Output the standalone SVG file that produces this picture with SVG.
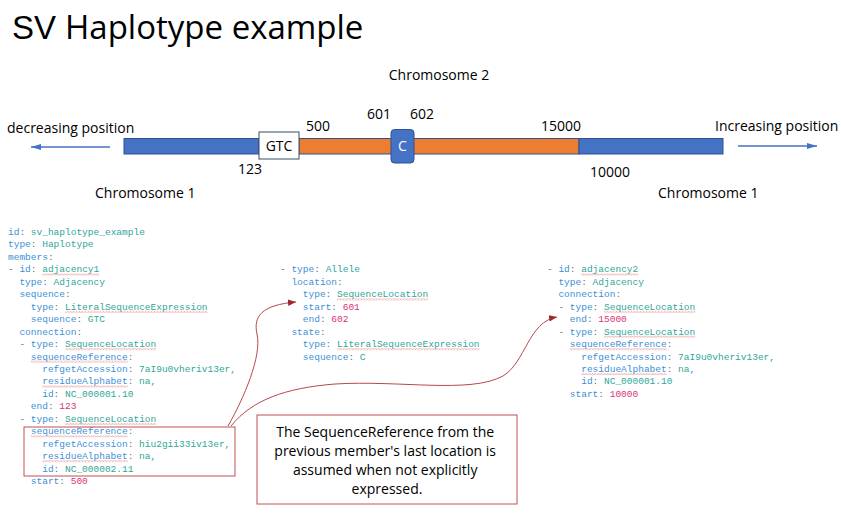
<svg xmlns="http://www.w3.org/2000/svg" width="841" height="520" viewBox="0 0 841 520">
  <defs>
    <style>
      .lbl { font-family: "Open Sans", "Liberation Sans", sans-serif; font-size: 14px; fill: #000; }
      .code { font-family: "Liberation Mono", "DejaVu Sans Mono", monospace; font-size: 9.5px; }
      .k { fill: #3d8fd6; }
      .p { fill: #6b7480; }
      .v { fill: #2fa699; }
      .n { fill: #d6337a; }
      .sq { fill: url(#squiggle); }
      .link { fill: none; stroke: #b9484a; stroke-width: 1; }
      .bar { stroke: #2f528f; stroke-width: 1; }
    </style>
    <pattern id="squiggle" x="0" y="0" width="3" height="2" patternUnits="userSpaceOnUse">
      <path d="M0,1.5 L0.75,0.5 L1.5,1.5 L2.25,0.5 L3,1.5" fill="none" stroke="#e57373" stroke-width="0.6"/>
    </pattern>
    <marker id="blueHead" viewBox="0 0 10 6" refX="10" refY="3" markerWidth="10" markerHeight="6" markerUnits="userSpaceOnUse" orient="auto">
      <path d="M0,0 L10,3 L0,6 Z" fill="#4472c4"/>
    </marker>
    <marker id="redHead" viewBox="0 0 10 8" refX="10" refY="4" markerWidth="8" markerHeight="6.4" markerUnits="userSpaceOnUse" orient="auto">
      <path d="M0,0 L10,4 L0,8 Z" fill="#9e2a2b"/>
    </marker>
  </defs>

  <rect width="841" height="520" fill="#ffffff"/>

  <!-- title -->
  <g id="title">
    <text x="12" y="38.5" font-family="Liberation Sans, Arial, sans-serif" font-size="33" fill="#000">SV</text>
    <text x="65" y="38.5" font-family="Open Sans, Liberation Sans, sans-serif" font-size="33" fill="#000">Haplotype example</text>
  </g>

  <!-- chromosome track -->
  <g id="track">
    <rect class="bar" x="124" y="138.5" width="135" height="15.5" fill="#4472c4"/>
    <rect class="bar" x="299" y="138.5" width="280" height="15.5" fill="#ed7d31" stroke="#ae5a21"/>
    <rect class="bar" x="579" y="138.5" width="144" height="15.5" fill="#4472c4"/>
  </g>
  <g id="gtc">
    <rect x="259" y="132" width="40" height="27" fill="#ffffff" stroke="#3b4f66" stroke-width="1"/>
    <text class="lbl" x="279" y="151" text-anchor="middle" font-size="13.5">GTC</text>
  </g>
  <g id="allele-c">
    <rect x="391" y="129.5" width="23" height="33.5" rx="3.5" fill="#4472c4" stroke="#2f528f" stroke-width="1"/>
    <text class="lbl" x="402.5" y="151" text-anchor="middle" font-size="13.5" style="fill:#ffffff">C</text>
  </g>

  <!-- track labels -->
  <g id="labels">
    <text class="lbl" x="439" y="80" text-anchor="middle" font-size="15.5">Chromosome 2</text>
    <text class="lbl" x="7" y="133" font-size="13.4">decreasing position</text>
    <text class="lbl" x="715" y="131" font-size="13.6">Increasing position</text>
    <text class="lbl" x="306" y="131" font-size="13.5">500</text>
    <text class="lbl" x="367" y="119" font-size="13.5">601</text>
    <text class="lbl" x="410" y="119" font-size="13.5">602</text>
    <text class="lbl" x="541" y="131" font-size="13.5">15000</text>
    <text class="lbl" x="238" y="174" font-size="13.5">123</text>
    <text class="lbl" x="590" y="177" font-size="13.5">10000</text>
    <text class="lbl" x="95" y="198" font-size="15.3">Chromosome 1</text>
    <text class="lbl" x="658" y="198" font-size="15.3">Chromosome 1</text>
  </g>

  <!-- direction arrows -->
  <g id="direction-arrows">
    <line x1="110" y1="147" x2="31" y2="147" stroke="#4472c4" stroke-width="1.3" marker-end="url(#blueHead)"/>
    <line x1="738" y1="146" x2="817" y2="146" stroke="#4472c4" stroke-width="1.3" marker-end="url(#blueHead)"/>
  </g>

  <!-- spell-check style underlines -->
  <g id="underlines">
    <rect class="sq" x="42.2" y="273.5" width="57" height="2"/>
    <rect class="sq" x="65" y="310.8" width="142.5" height="2"/>
    <rect class="sq" x="65" y="348.2" width="91.2" height="2"/>
    <rect class="sq" x="30.8" y="360.6" width="96.9" height="2"/>
    <rect class="sq" x="42.2" y="385.5" width="85.5" height="2"/>
    <rect class="sq" x="65" y="422.9" width="91.2" height="2"/>
    <rect class="sq" x="30.8" y="435.3" width="96.9" height="2"/>
    <rect class="sq" x="42.2" y="460.2" width="85.5" height="2"/>

    <rect class="sq" x="337" y="298.4" width="91.2" height="2"/>
    <rect class="sq" x="337" y="348.2" width="142.5" height="2"/>

    <rect class="sq" x="581.2" y="273.5" width="57" height="2"/>
    <rect class="sq" x="604" y="310.8" width="91.2" height="2"/>
    <rect class="sq" x="604" y="335.7" width="91.2" height="2"/>
    <rect class="sq" x="569.8" y="348.2" width="96.9" height="2"/>
    <rect class="sq" x="581.2" y="373.1" width="85.5" height="2"/>

    <rect class="sq" x="304" y="441" width="132" height="2"/>
  </g>

  <!-- haplotype document, first column -->
  <g id="doc-left" class="code">
    <text x="8" y="235"><tspan class="k">id</tspan><tspan class="p">: </tspan><tspan class="v">sv_haplotype_example</tspan></text>
    <text x="8" y="247.45"><tspan class="k">type</tspan><tspan class="p">: </tspan><tspan class="v">Haplotype</tspan></text>
    <text x="8" y="259.9"><tspan class="k">members</tspan><tspan class="p">:</tspan></text>
    <text x="8" y="272.35"><tspan class="p">- </tspan><tspan class="k">id</tspan><tspan class="p">: </tspan><tspan class="v">adjacency1</tspan></text>
    <text x="19.4" y="284.8"><tspan class="k">type</tspan><tspan class="p">: </tspan><tspan class="v">Adjacency</tspan></text>
    <text x="19.4" y="297.25"><tspan class="k">sequence</tspan><tspan class="p">:</tspan></text>
    <text x="30.8" y="309.7"><tspan class="k">type</tspan><tspan class="p">: </tspan><tspan class="v">LiteralSequenceExpression</tspan></text>
    <text x="30.8" y="322.15"><tspan class="k">sequence</tspan><tspan class="p">: </tspan><tspan class="v">GTC</tspan></text>
    <text x="19.4" y="334.6"><tspan class="k">connection</tspan><tspan class="p">:</tspan></text>
    <text x="19.4" y="347.05"><tspan class="p">- </tspan><tspan class="k">type</tspan><tspan class="p">: </tspan><tspan class="v">SequenceLocation</tspan></text>
    <text x="30.8" y="359.5"><tspan class="k">sequenceReference</tspan><tspan class="p">:</tspan></text>
    <text x="42.2" y="371.95"><tspan class="k">refgetAccession</tspan><tspan class="p">: </tspan><tspan class="v">7aI9u0vheriv13er,</tspan></text>
    <text x="42.2" y="384.4"><tspan class="k">residueAlphabet</tspan><tspan class="p">: </tspan><tspan class="v">na,</tspan></text>
    <text x="42.2" y="396.85"><tspan class="k">id</tspan><tspan class="p">: </tspan><tspan class="v">NC_000001.10</tspan></text>
    <text x="30.8" y="409.3"><tspan class="k">end</tspan><tspan class="p">: </tspan><tspan class="n">123</tspan></text>
    <text x="19.4" y="421.75"><tspan class="p">- </tspan><tspan class="k">type</tspan><tspan class="p">: </tspan><tspan class="v">SequenceLocation</tspan></text>
    <text x="30.8" y="434.2"><tspan class="k">sequenceReference</tspan><tspan class="p">:</tspan></text>
    <text x="42.2" y="446.65"><tspan class="k">refgetAccession</tspan><tspan class="p">: </tspan><tspan class="v">hiu2gii33iv13er,</tspan></text>
    <text x="42.2" y="459.1"><tspan class="k">residueAlphabet</tspan><tspan class="p">: </tspan><tspan class="v">na,</tspan></text>
    <text x="42.2" y="471.55"><tspan class="k">id</tspan><tspan class="p">: </tspan><tspan class="v">NC_000002.11</tspan></text>
    <text x="30.8" y="484"><tspan class="k">start</tspan><tspan class="p">: </tspan><tspan class="n">500</tspan></text>
  </g>

  <!-- second column: allele member -->
  <g id="doc-middle" class="code">
    <text x="280" y="272.35"><tspan class="p">- </tspan><tspan class="k">type</tspan><tspan class="p">: </tspan><tspan class="v">Allele</tspan></text>
    <text x="291.4" y="284.8"><tspan class="k">location</tspan><tspan class="p">:</tspan></text>
    <text x="302.8" y="297.25"><tspan class="k">type</tspan><tspan class="p">: </tspan><tspan class="v">SequenceLocation</tspan></text>
    <text x="302.8" y="309.7"><tspan class="k">start</tspan><tspan class="p">: </tspan><tspan class="n">601</tspan></text>
    <text x="302.8" y="322.15"><tspan class="k">end</tspan><tspan class="p">: </tspan><tspan class="n">602</tspan></text>
    <text x="291.4" y="334.6"><tspan class="k">state</tspan><tspan class="p">:</tspan></text>
    <text x="302.8" y="347.05"><tspan class="k">type</tspan><tspan class="p">: </tspan><tspan class="v">LiteralSequenceExpression</tspan></text>
    <text x="302.8" y="359.5"><tspan class="k">sequence</tspan><tspan class="p">: </tspan><tspan class="v">C</tspan></text>
  </g>

  <!-- third column: second adjacency -->
  <g id="doc-right" class="code">
    <text x="547" y="272.35"><tspan class="p">- </tspan><tspan class="k">id</tspan><tspan class="p">: </tspan><tspan class="v">adjacency2</tspan></text>
    <text x="558.4" y="284.8"><tspan class="k">type</tspan><tspan class="p">: </tspan><tspan class="v">Adjacency</tspan></text>
    <text x="558.4" y="297.25"><tspan class="k">connection</tspan><tspan class="p">:</tspan></text>
    <text x="558.4" y="309.7"><tspan class="p">- </tspan><tspan class="k">type</tspan><tspan class="p">: </tspan><tspan class="v">SequenceLocation</tspan></text>
    <text x="569.8" y="322.15"><tspan class="k">end</tspan><tspan class="p">: </tspan><tspan class="n">15000</tspan></text>
    <text x="558.4" y="334.6"><tspan class="p">- </tspan><tspan class="k">type</tspan><tspan class="p">: </tspan><tspan class="v">SequenceLocation</tspan></text>
    <text x="569.8" y="347.05"><tspan class="k">sequenceReference</tspan><tspan class="p">:</tspan></text>
    <text x="581.2" y="359.5"><tspan class="k">refgetAccession</tspan><tspan class="p">: </tspan><tspan class="v">7aI9u0vheriv13er,</tspan></text>
    <text x="581.2" y="371.95"><tspan class="k">residueAlphabet</tspan><tspan class="p">: </tspan><tspan class="v">na,</tspan></text>
    <text x="581.2" y="384.4"><tspan class="k">id</tspan><tspan class="p">: </tspan><tspan class="v">NC_000001.10</tspan></text>
    <text x="569.8" y="396.85"><tspan class="k">start</tspan><tspan class="p">: </tspan><tspan class="n">10000</tspan></text>
  </g>

  <!-- highlighted reference block -->
  <g id="ref-highlight">
    <rect x="24" y="427" width="211" height="49" fill="none" stroke="#c0504d" stroke-width="1"/>
  </g>

  <!-- note -->
  <g id="note">
    <rect x="257" y="415" width="260" height="89" fill="#ffffff" stroke="#c0504d" stroke-width="1"/>
    <text class="lbl" text-anchor="middle" font-size="14.7">
      <tspan x="387" y="437">The SequenceReference from the</tspan>
      <tspan x="387" y="456">previous member's last location is</tspan>
      <tspan x="387" y="475">assumed when not explicitly</tspan>
      <tspan x="387" y="494">expressed.</tspan>
    </text>
  </g>

  <!-- connectors -->
  <g id="connectors">
    <path class="link" d="M228,426 C244,398 262,356 257,334 C253,316 262,305 296,302" marker-end="url(#redHead)"/>
    <path class="link" d="M231,426 C252,400 285,388 335,384 C400,380 470,394 503,376 C526,362 528,322 557,317" marker-end="url(#redHead)"/>
  </g>
</svg>
